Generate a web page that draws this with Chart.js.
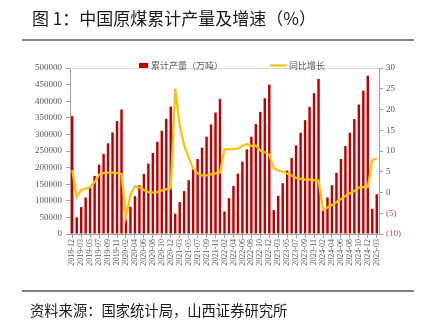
<!DOCTYPE html>
<html>
<head>
<meta charset="utf-8">
<script src="https://cdn.jsdelivr.net/npm/chart.js@4"></script>
<style>
  html, body { margin: 0; padding: 0; background: #fff; }
  body { width: 423px; height: 327px; position: relative; overflow: hidden; font-family: "Noto Sans CJK SC", sans-serif; }
  #chart { position: absolute; left: 0; top: 0; }
  #title { position: absolute; left: 32px; top: 7px; font-size: 17px; line-height: 22px; color: #1a1a1a; white-space: nowrap; }
  .rule { position: absolute; left: 22px; width: 392px; height: 2px; background: #808080; }
  #source { position: absolute; left: 30px; top: 300px; font-size: 14.3px; line-height: 20px; color: #1a1a1a; white-space: nowrap; }
</style>
</head>
<body>
<canvas id="chart" width="423" height="327"></canvas>
<div id="title">图 1：中国原煤累计产量及增速（%）</div>
<div class="rule" style="top:39px"></div>
<div class="rule" style="top:290px"></div>
<div id="source">资料来源：国家统计局，山西证券研究所</div>

<script>
// Chart data
const months = [
  '2018-12',
  '2019-02','2019-03','2019-04','2019-05','2019-06','2019-07','2019-08','2019-09','2019-10','2019-11','2019-12',
  '2020-02','2020-03','2020-04','2020-05','2020-06','2020-07','2020-08','2020-09','2020-10','2020-11','2020-12',
  '2021-02','2021-03','2021-04','2021-05','2021-06','2021-07','2021-08','2021-09','2021-10','2021-11','2021-12',
  '2022-02','2022-03','2022-04','2022-05','2022-06','2022-07','2022-08','2022-09','2022-10','2022-11','2022-12',
  '2023-02','2023-03','2023-04','2023-05','2023-06','2023-07','2023-08','2023-09','2023-10','2023-11','2023-12',
  '2024-02','2024-03','2024-04','2024-05','2024-06','2024-07','2024-08','2024-09','2024-10','2024-11','2024-12',
  '2025-02','2025-03'
];

// 累计产量（万吨）
const output = [
  355000,
  50000, 81000, 110000, 138000, 175000, 209000, 241000, 273000, 306000, 340000, 375000,
  45000, 82000, 114000, 147000, 181000, 212000, 244000, 278000, 311000, 347000, 384000,
  61000, 96000, 129000, 162000, 195000, 226000, 260000, 293000, 330000, 366000, 407000,
  68000, 108000, 145000, 182000, 218000, 255000, 293000, 331000, 368000, 409000, 450000,
  72000, 115000, 153000, 191000, 229000, 267000, 305000, 343000, 383000, 424000, 467000,
  70000, 110000, 147000, 184000, 226000, 265000, 305000, 346000, 390000, 432000, 477000,
  76000, 120000
];

// 同比增长（%）
const growth = [
  5.4,
  -1.2, 0.6, 0.9, 1.3, 2.5, 4.3, 4.7, 4.8, 4.8, 4.7, 4.5,
  -5.9, -0.6, 1.5, 1.2, 0.6, 0.1, 0.0, 0.1, 0.5, 0.8, 1.0,
  25.0, 16.2, 11.4, 8.5, 5.8, 4.6, 4.1, 4.1, 4.4, 4.6, 4.8,
  10.4, 10.4, 10.5, 10.6, 11.2, 11.7, 11.2, 11.3, 10.1, 9.7, 9.1,
  5.9, 5.3, 5.0, 4.6, 4.1, 3.5, 3.3, 3.1, 3.1, 3.0, 2.9,
  -4.1, -3.6, -3.0, -2.3, -1.6, -0.8, -0.2, 0.4, 1.2, 1.3, 1.3,
  7.8, 8.2
];

const barColor = '#C00000';
const lineColor = '#FFC000';
const axisColor = '#A0A0A0';
const textColor = '#595959';
const serif = '"Liberation Serif", "DejaVu Serif", serif';

// Legend drawn over the top edge of the plot, like the original
const legendPlugin = {
  id: 'topLegend',
  afterDraw(chart) {
    const ctx = chart.ctx;
    const ds = chart.data.datasets;
    ctx.save();
    ctx.font = '9px "Noto Sans CJK SC", sans-serif';
    ctx.textBaseline = 'middle';
    ctx.textAlign = 'left';

    ctx.fillStyle = barColor;
    ctx.fillRect(139, 63, 9, 5);
    ctx.fillStyle = textColor;
    ctx.fillText(ds[0].label, 151, 65.5);

    ctx.strokeStyle = lineColor;
    ctx.lineWidth = 2;
    ctx.beginPath();
    ctx.moveTo(270, 65.5);
    ctx.lineTo(287, 65.5);
    ctx.stroke();
    ctx.fillText(ds[1].label, 289, 65.5);
    ctx.restore();
  }
};

// Faint top frame line
const framePlugin = {
  id: 'frameTop',
  beforeDatasetsDraw(chart) {
    const { ctx, chartArea } = chart;
    ctx.save();
    ctx.strokeStyle = '#D9D9D9';
    ctx.lineWidth = 1;
    ctx.beginPath();
    ctx.moveTo(chartArea.left, chartArea.top + 0.5);
    ctx.lineTo(chartArea.right, chartArea.top + 0.5);
    ctx.stroke();
    ctx.restore();
  }
};

new Chart(document.getElementById('chart'), {
  type: 'bar',
  data: {
    labels: months,
    datasets: [
      {
        type: 'bar',
        label: '累计产量（万吨）',
        data: output,
        yAxisID: 'y',
        backgroundColor: barColor,
        borderWidth: 0,
        barPercentage: 0.55,
        categoryPercentage: 1,
        order: 2
      },
      {
        type: 'line',
        label: '同比增长',
        data: growth,
        yAxisID: 'y1',
        borderColor: lineColor,
        backgroundColor: lineColor,
        borderWidth: 2.2,
        pointRadius: 0,
        tension: 0,
        fill: false,
        order: 1
      }
    ]
  },
  options: {
    responsive: false,
    animation: false,
    layout: { padding: { top: 68, left: 0, right: 0, bottom: 0 } },
    plugins: {
      legend: { display: false },
      tooltip: { enabled: false }
    },
    scales: {
      x: {
        offset: true,
        grid: {
          display: true,
          drawOnChartArea: false,
          offset: false,
          tickLength: 4,
          color: (c) => (c.index % 2 === 0 ? axisColor : 'rgba(0,0,0,0)')
        },
        border: { display: true, color: axisColor },
        ticks: {
          autoSkip: false,
          maxRotation: 90,
          minRotation: 90,
          padding: 1,
          color: textColor,
          font: { family: serif, size: 8 },
          callback: function (v, i) {
            return i % 2 === 0 ? this.getLabelForValue(v) : '';
          }
        },
        afterFit(scale) { scale.height = 93; }
      },
      y: {
        position: 'left',
        min: 0,
        max: 500000,
        grid: { display: true, drawOnChartArea: false, tickLength: 4, color: axisColor },
        border: { display: true, color: axisColor },
        ticks: {
          stepSize: 50000,
          padding: 4,
          color: textColor,
          font: { family: serif, size: 9 },
          callback: (v) => String(v)
        },
        afterFit(scale) { scale.width = 70; }
      },
      y1: {
        position: 'right',
        min: -10,
        max: 30,
        grid: { display: true, drawOnChartArea: false, tickLength: 4, color: axisColor },
        border: { display: true, color: axisColor },
        ticks: {
          stepSize: 5,
          padding: 3,
          color: (c) => (c.tick && c.tick.value < 0 ? '#C0504D' : textColor),
          font: { family: serif, size: 9 },
          callback: (v) => (v < 0 ? '(' + (-v) + ')' : String(v))
        },
        afterFit(scale) { scale.width = 44; }
      }
    }
  },
  plugins: [framePlugin, legendPlugin]
});
</script>
</body>
</html>
